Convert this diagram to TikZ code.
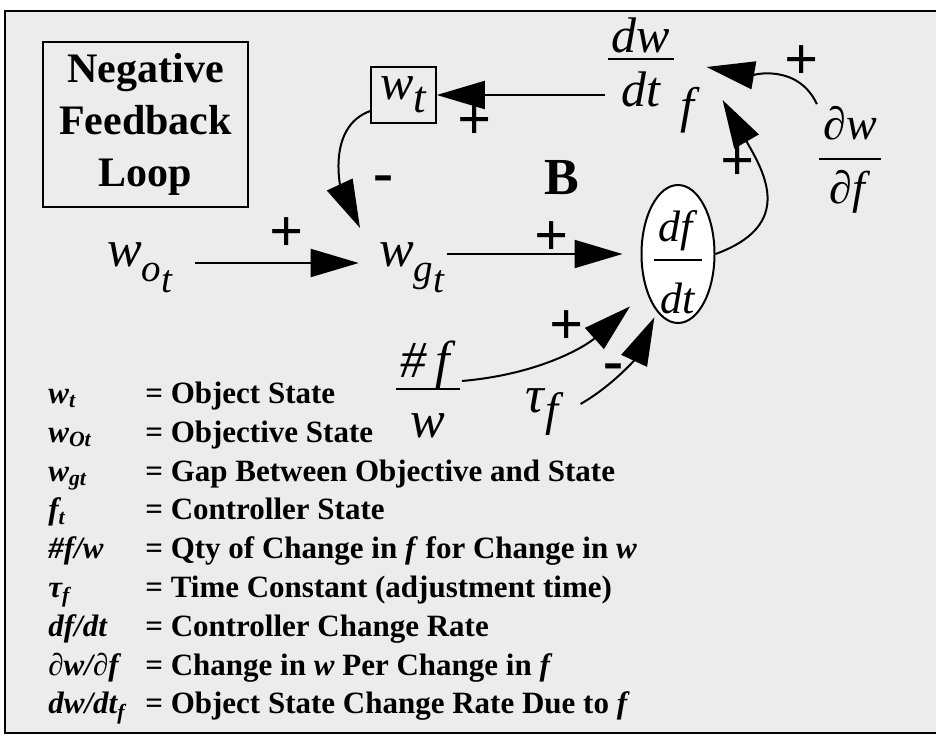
\documentclass[tikz,border=0pt]{standalone}
\usepackage{fontspec}
\setmainfont{Liberation Serif}
\usepackage{amsmath}
\usepackage{graphicx}
\usetikzlibrary{arrows.meta, shapes.geometric}
\definecolor{cpaper}{RGB}{236,236,236}
\setlength{\arrayrulewidth}{1pt}
\newcommand{\iv}[1]{\textit{#1}}
\newcommand{\dn}[3]{\raisebox{-#1}{\scalebox{#2}{#3}}}
% stacked fraction: depth under numerator, height over denominator
\newcommand{\vfr}[4]{{\renewcommand{\arraystretch}{0}%
  \begin{tabular}{@{\hspace{2pt}}c@{\hspace{2pt}}}\rule[-#1]{0pt}{0pt}#3\\\hline
  \rule{0pt}{#2}#4\end{tabular}}}

\begin{document}
\begin{tikzpicture}[
  x=0.5pt, y=-0.5pt,
  var/.style={font=\fontsize{26}{28}\selectfont, inner sep=1pt},
  sign/.style={font=\fontsize{30}{30}\selectfont\bfseries, inner sep=0pt},
  arr/.style={-{Triangle[length=24pt, width=14pt]}, line width=1pt},
]
\useasboundingbox (0,0) rectangle (936,737);
\fill[cpaper] (5,11) rectangle (936,733);
\draw[line width=1pt] (936,11) -- (5,11) -- (5,733) -- (936,733);

% loop variables
\node[draw, line width=1pt, minimum width=102.5pt, minimum height=82.5pt,
  align=center, font=\fontsize{21}{26}\selectfont\bfseries] (title)
  at (145.5,124.5) {Negative\\Feedback\\Loop};
\node[var, draw, line width=.8pt, minimum width=32.5pt, minimum height=28pt,
  font=\fontsize{25}{25}\selectfont] (wt) at (403.5,95)
  {\iv{w}\dn{6.5pt}{.9}{\iv{t}}};
\node[var] (wot) at (140,268) {\iv{w}\dn{7.5pt}{.75}{\iv{o}}\dn{13pt}{.75}{\iv{t}}};
\node[var] (wgt) at (412,268) {\iv{w}\dn{7.5pt}{.75}{\iv{g}}\dn{13pt}{.75}{\iv{t}}};
\node[var, font=\fontsize{25}{25}\selectfont] (dwdt) at (641,75)
  {\vfr{3pt}{23pt}{\iv{dw}}{\iv{dt}\rlap{\hspace{10pt}\raisebox{-8pt}{\iv{f}}}}};
\node[var, font=\fontsize{23}{23}\selectfont] (dpdf) at (850,160)
  {\vfr{9pt}{22pt}{\iv{∂w}}{\iv{∂f}}};
\node[draw, ellipse, fill=white, line width=1pt, minimum width=36.5pt,
  minimum height=69pt, inner sep=0pt, font=\fontsize{22}{22}\selectfont] (dfdt)
  at (678,254)
  {\smash{\makebox[0pt]{\raisebox{-9.25pt}{\vfr{9pt}{26pt}{\iv{df}}{\iv{dt}}}}}};
\node[var] (nfw) at (428,389) {\vfr{5.5pt}{23.5pt}{\iv{\#\,f}}{\iv{w}}};
\node[var] (tauf) at (545,412) {\iv{τ}\dn{6.5pt}{.9}{\iv{f}}};
\node[font=\fontsize{26}{26}\selectfont\bfseries] (loopB) at (562,178) {B};

% links
\draw[arr] (dwdt.west |- wt) -- (wt);
\draw[arr] (dpdf.north west) to[out=115, in=-10] ([shift={(15pt,4pt)}]dwdt.east);
\draw[arr] (dfdt.east) to[out=20, in=-60, looseness=1.4]
  ([shift={(23pt,-12.5pt)}]dwdt.east);
\draw[arr] ([yshift=-8pt]wt.west) to[out=200, in=115]
  ([shift={(-26pt,20pt)}]wgt.center);
\draw[arr, shorten <=10pt, shorten >=9pt] ([yshift=2.5pt]wot.east)
  -- ([yshift=2.5pt]wgt.west);
\draw[arr, shorten >=9pt] (wgt.east |- dfdt.west) -- (dfdt.west);
\draw[arr, shorten >=11pt] ([yshift=4pt]nfw.east) to[out=5, in=222] (dfdt.230);
\draw[arr, shorten <=8pt, shorten >=3pt] (tauf.east) to[out=30, in=245] (dfdt.250);

% polarities
\node[sign] (pwo) at (287,235) {+};
\node[sign] (mwt) at (383,184) {-};
\node[sign] (pdw) at (475,123) {+};
\node[sign] (pwg) at (552,239) {+};
\node[sign] (pdp) at (802,63) {+};
\node[sign] (pdf) at (738,164) {+};
\node[sign] (pnf) at (567,328) {+};
\node[sign] (mtau) at (613,372) {-};

% key
\node[anchor=north west, inner sep=0pt, font=\fontsize{15.5}{19.4}\selectfont\bfseries]
  (key) at (48,376) {%
  \begin{tabular}{@{}p{48.5pt}@{}l@{}}
  \itshape w\textsubscript{t} & = Object State\\
  \itshape w\textsubscript{Ot} & = Objective State\\
  \itshape w\textsubscript{gt} & = Gap Between Objective and State\\
  \itshape f\textsubscript{t} & = Controller State\\
  \itshape \#f/w & = Qty of Change in \textit{f} for Change in \textit{w}\\
  \itshape τ\textsubscript{f} & = Time Constant (adjustment time)\\
  \itshape df/dt & = Controller Change Rate\\
  \itshape ∂w/∂f & = Change in \textit{w} Per Change in \textit{f}\\
  \itshape dw/dt\textsubscript{f} & = Object State Change Rate Due to \textit{f}
  \end{tabular}};
\end{tikzpicture}
\end{document}
